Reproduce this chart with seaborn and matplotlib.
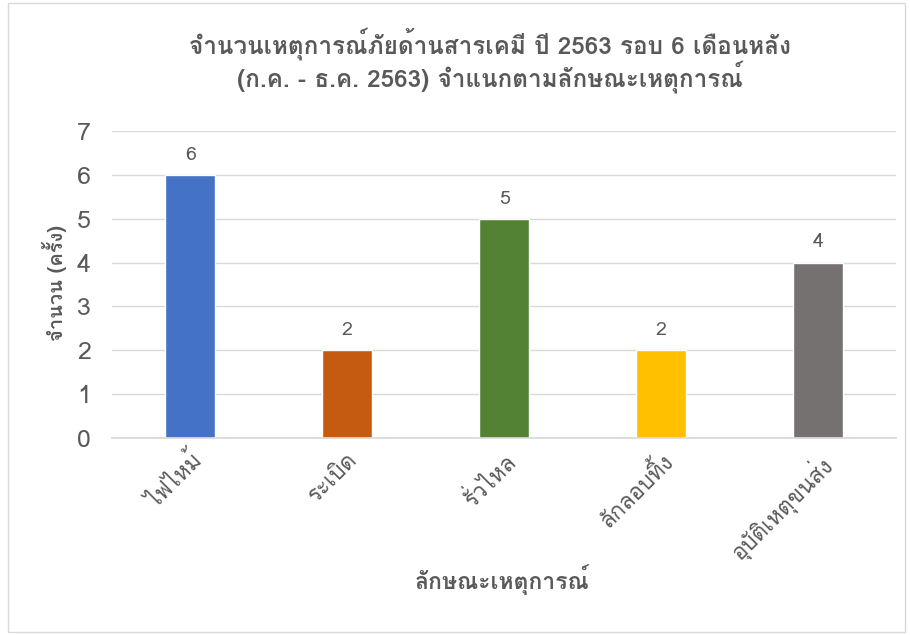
import matplotlib
matplotlib.use("Agg")
import matplotlib.pyplot as plt
from matplotlib import font_manager
from matplotlib.ft2font import FT2Font
import seaborn as sns
import pandas as pd

# data
categories = ["ไฟไหม้", "ระเบิด", "รั่วไหล", "ลักลอบทิ้ง", "อุบัติเหตุขนส่ง"]
counts = [6, 2, 5, 2, 4]
bar_colors = ["#4472C4", "#C55A11", "#548235", "#FFC000", "#767171"]
y_ticks = [0, 1, 2, 3, 4, 5, 6, 7]
title_text = "จำนวนเหตุการณ์ภัยด้านสารเคมี ปี 2563 รอบ 6 เดือนหลัง\n(ก.ค. - ธ.ค. 2563) จำแนกตามลักษณะเหตุการณ์"
x_label = "ลักษณะเหตุการณ์"
y_label = "จำนวน (ครั้ง)"

sns.set_theme(style="white")

# look for any installed family that carries Thai glyphs
thai_fams = []
for f in font_manager.fontManager.ttflist:
    try:
        if 0x0E01 in FT2Font(f.fname).get_charmap() and f.name not in thai_fams:
            thai_fams.append(f.name)
    except Exception:
        pass
plt.rcParams["font.family"] = thai_fams + ["DejaVu Sans"]

text_col = "#595959"
df = pd.DataFrame({"cat": categories, "n": counts})

fig = plt.figure(figsize=(9.1, 6.35), dpi=100)
ax = fig.add_axes([0.123, 0.310, 0.862, 0.484])

sns.barplot(data=df, x="cat", y="n", hue="cat", palette=bar_colors,
            width=0.32, legend=False, ax=ax, saturation=1)

ax.set_ylim(0, 7)
ax.set_yticks(y_ticks)
ax.yaxis.grid(True, color="#D9D9D9", linewidth=1)
ax.set_axisbelow(True)
for s in ["left", "right", "top"]:
    ax.spines[s].set_visible(False)
ax.spines["bottom"].set_color("#D9D9D9")
ax.tick_params(axis="y", labelsize=18, labelcolor=text_col, length=0, pad=15)
ax.tick_params(axis="x", labelsize=16, labelcolor=text_col, length=0, pad=8)
for lbl in ax.get_xticklabels():
    lbl.set_rotation(45)
    lbl.set_ha("right")
    lbl.set_va("top")
    lbl.set_rotation_mode("anchor")

for c in ax.containers:
    ax.bar_label(c, fmt="%d", padding=8, fontsize=14, color=text_col)

ax.set_xlabel("")
ax.set_ylabel("")
fig.text(0.552, 0.087, x_label, ha="center", va="center", fontsize=16.5,
         fontweight="bold", color=text_col)
fig.text(0.060, 0.554, y_label, ha="center", va="center", rotation=90, fontsize=14.5,
         fontweight="bold", color=text_col)
fig.text(0.538, 0.905, title_text, ha="center", va="center", fontsize=17.5,
         fontweight="bold", color=text_col, linespacing=1.0)

fig.patches.append(plt.Rectangle((0.009, 0.005), 0.985, 0.99, transform=fig.transFigure,
                                 fill=False, edgecolor="#D9D9D9", linewidth=1))

fig.savefig("out.png", dpi=100)
